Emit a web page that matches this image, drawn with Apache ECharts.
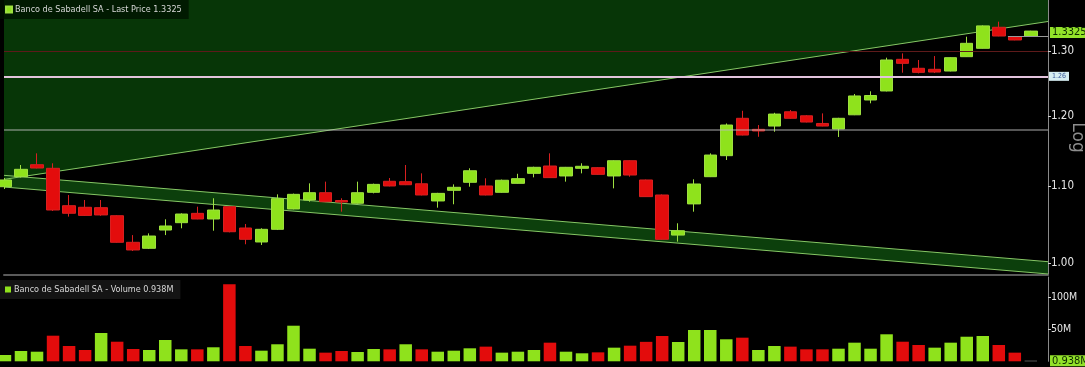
<!DOCTYPE html>
<html><head><meta charset="utf-8">
<script src="https://cdn.jsdelivr.net/npm/echarts@6/dist/echarts.min.js"></script>
<style>html,body{margin:0;padding:0;background:#000;}#c{width:1085px;height:367px;}</style>
</head><body><div id="c"></div>
<script>
// ---- data ----
const security = 'Banco de Sabadell SA';
const opens  = [1.0993,1.1130,1.1296,1.1246,1.0738,1.0717,1.0712,1.0606,1.0263,1.0187,
                1.0420,1.0515,1.0637,1.0563,1.0725,1.0446,1.0267,1.0429,1.0695,1.0814,
                1.0912,1.0807,1.0770,1.0917,1.1067,1.1062,1.1033,1.0801,1.0944,1.1053,
                1.1003,1.0917,1.1039,1.1176,1.1278,1.1140,1.1246,1.1255,1.1140,1.1352,
                1.1085,1.0881,1.0355,1.0762,1.1130,1.1423,1.1963,1.1801,1.1849,1.2060,
                1.2000,1.1887,1.1806,1.2015,1.2237,1.2374,1.2868,1.2726,1.2710,1.2683,
                1.2910,1.3044,1.3388,1.3233,1.3238];
const closes = [1.1085,1.1232,1.1250,1.0681,1.0638,1.0610,1.0616,1.0263,1.0166,1.0343,
                1.0472,1.0628,1.0563,1.0681,1.0398,1.0301,1.0429,1.0832,1.0890,1.0912,
                1.0791,1.0787,1.0912,1.1025,1.1003,1.1020,1.0881,1.0903,1.0985,1.1212,
                1.0881,1.1081,1.1103,1.1260,1.1117,1.1260,1.1274,1.1162,1.1352,1.1153,
                1.0859,1.0301,1.0411,1.1030,1.1432,1.1864,1.1718,1.1777,1.2026,1.1963,
                1.1908,1.1849,1.1963,1.2298,1.2305,1.2857,1.2804,1.2662,1.2667,1.2894,
                1.3125,1.3411,1.3244,1.3179,1.3325];
const lows   = [1.0962,1.1119,1.1245,1.0668,1.0594,1.0603,1.0605,1.0258,1.0153,1.0178,
                1.0355,1.0442,1.0560,1.0411,1.0390,1.0238,1.0229,1.0420,1.0690,1.0791,
                1.0785,1.0659,1.0765,1.0903,1.0998,1.1015,1.0876,1.0712,1.0757,1.0993,
                1.0876,1.0912,1.1035,1.1121,1.1112,1.1062,1.1176,1.1158,1.0971,1.1130,
                1.0855,1.0297,1.0271,1.0659,1.1125,1.1362,1.1713,1.1693,1.1766,1.1958,
                1.1903,1.1845,1.1690,1.2010,1.2187,1.2368,1.2657,1.2646,1.2652,1.2678,
                1.2905,1.3040,1.3240,1.3175,1.3235];
const highs  = [1.1112,1.1292,1.1456,1.1316,1.0881,1.0814,1.0814,1.0612,1.0355,1.0377,
                1.0559,1.0637,1.0725,1.0837,1.0735,1.0498,1.0442,1.0890,1.0900,1.1039,
                1.1062,1.0837,1.1062,1.1035,1.1112,1.1292,1.1176,1.0910,1.1025,1.1246,
                1.1108,1.1090,1.1170,1.1268,1.1456,1.1265,1.1316,1.1262,1.1358,1.1358,
                1.1090,1.0888,1.0507,1.1094,1.1456,1.1887,1.2075,1.1864,1.2045,1.2086,
                1.2010,1.2036,1.1970,1.2328,1.2369,1.2894,1.2963,1.2857,1.2920,1.2900,
                1.3233,1.3420,1.3481,1.3240,1.3330];
// volume in millions
const volumes = [9.8,16.1,15.0,40.0,23.9,17.7,44.2,30.6,19.2,17.7,
                 33.3,18.7,18.7,21.9,120.3,23.9,16.6,26.6,55.6,19.7,
                 13.5,16.1,14.5,19.2,18.7,26.6,18.7,15.0,16.6,20.3,
                 22.9,13.5,15.0,17.7,29.1,15.0,12.5,14.0,21.3,24.4,
                 30.4,39.5,30.2,48.9,48.9,34.4,36.9,17.7,23.9,22.9,
                 18.7,18.7,19.7,29.1,19.7,42.2,30.6,25.5,21.3,29.1,
                 38.4,39.5,25.5,13.5,0.938];
const priceTicks = [1.00, 1.10, 1.20, 1.30];
const volumeTicks = [50, 100];
// drawn annotation lines: [dayIndex, price]
const risingLine   = [[-0.06, 1.1093], [65.07, 1.3484]];
const channelUpper = [[-0.06, 1.1149], [65.07, 1.0020]];
const channelLower = [[-0.06, 1.0989], [65.07, 0.9869]];
const redLevel = 1.3033;
const pinkLevel = 1.2589;
const greyLevel = 1.1766;
const prevLevelStart = 62.57;

// ---- styles ----
const FONT = '"Liberation Sans Narrow","DejaVu Sans Condensed","Liberation Sans",sans-serif';
const UP = '#8fe21c', DOWN = '#e30c0c';
const X_MIN = -0.06, X_MAX = 65.07, Y_MIN = 0.98564, Y_MAX = 1.3847;

const days = opens.map((_, i) => i);
const candleData = days.map(i => [i, opens[i], closes[i], lows[i], highs[i]]);
const lastIdx = days.length - 1;
const volData = days.map(i => {
  let up = i === 0 ? closes[i] >= opens[i] : closes[i] >= closes[i - 1];
  let color = up ? UP : DOWN;
  if (i === lastIdx) color = '#8c8c8c';
  return { value: [i, volumes[i]], itemStyle: { color } };
});
const lastClose = closes[lastIdx];
const lastVol = volumes[lastIdx];
const priceName = security + ' - Last Price ' + lastClose.toFixed(4);
const volName = security + ' - Volume ' + lastVol.toFixed(3) + 'M';

const chart = echarts.init(document.getElementById('c'), null, { renderer: 'canvas' });

function polyItem(pointsFn, fill) {
  return function (params, api) {
    return { type: 'polygon', shape: { points: pointsFn(api) }, style: { fill: fill }, silent: true };
  };
}
const tagLabel = (text) => ({
  show: true, position: 'end', distance: 2, formatter: () => text,
  backgroundColor: '#93e22a', color: '#0d2a00', fontSize: 11, padding: [0, 2], fontFamily: FONT
});

const option = {
  backgroundColor: '#000',
  animation: false,
  textStyle: { fontFamily: FONT },
  legend: [
    { data: [priceName], left: 0, top: 0, padding: [5, 7, 5, 5], itemWidth: 6, itemHeight: 6, itemGap: 2,
      icon: 'rect', backgroundColor: 'rgba(0,18,0,0.75)', selectedMode: false,
      textStyle: { color: '#d8d8d8', fontSize: 9, fontFamily: FONT, padding: [0, 0, 0, -2] } },
    { data: [volName], left: 0, top: 280, padding: [5, 7, 5, 5], itemWidth: 6, itemHeight: 6, itemGap: 2,
      icon: 'rect', backgroundColor: '#141414', selectedMode: false,
      textStyle: { color: '#d8d8d8', fontSize: 9, fontFamily: FONT, padding: [0, 0, 0, -2] } }
  ],
  grid: [
    { left: 4, right: 37, top: 0, height: 275, containLabel: false, outerBoundsMode: 'none' },
    { left: 4, right: 37, top: 277, height: 84.3, containLabel: false, outerBoundsMode: 'none' }
  ],
  xAxis: [
    { type: 'value', gridIndex: 0, min: X_MIN, max: X_MAX,
      axisLine: { show: true, onZero: false, lineStyle: { color: '#5a5a5a', width: 2 } },
      axisTick: { show: false }, axisLabel: { show: false }, splitLine: { show: false } },
    { type: 'value', gridIndex: 1, min: X_MIN, max: X_MAX, show: false, splitLine: { show: false } }
  ],
  yAxis: [
    { type: 'log', logBase: 10, gridIndex: 0, position: 'right', min: Y_MIN, max: Y_MAX,
      axisLine: { show: true, onZero: false, lineStyle: { color: '#8a8a8a' } },
      axisTick: { show: true, length: 3, customValues: priceTicks, lineStyle: { color: '#cfcfcf' } },
      axisLabel: { show: true, customValues: priceTicks, margin: 3, color: '#e6e6e6', fontSize: 11.5, fontFamily: FONT,
                   formatter: v => Number(v).toFixed(2) },
      splitLine: { show: false },
      name: 'Log', nameLocation: 'middle', nameRotate: -90, nameGap: 21, nameMoveOverlap: false,
      nameTextStyle: { color: '#8d8d8d', fontSize: 17, fontFamily: '"DejaVu Sans",sans-serif' } },
    { type: 'value', gridIndex: 1, position: 'right', min: 0, max: 131.7,
      axisLine: { show: true, onZero: false, lineStyle: { color: '#8a8a8a' } },
      axisTick: { show: true, length: 3, customValues: volumeTicks, lineStyle: { color: '#cfcfcf' } },
      axisLabel: { show: true, customValues: volumeTicks, margin: 3, color: '#e6e6e6', fontSize: 10.5, fontFamily: FONT,
                   formatter: v => v + 'M' },
      splitLine: { show: false } }
  ],
  series: [
    { type: 'custom', name: 'upperFill', xAxisIndex: 0, yAxisIndex: 0, z: 1, silent: true,
      data: [[risingLine[0][0], risingLine[0][1]]],
      renderItem: polyItem(api => [
        api.coord([risingLine[0][0], Y_MAX]), api.coord([risingLine[1][0], Y_MAX]),
        api.coord(risingLine[1]), api.coord(risingLine[0])], '#073607') },
    { type: 'custom', name: 'channelFill', xAxisIndex: 0, yAxisIndex: 0, z: 1, silent: true,
      data: [[channelUpper[0][0], channelUpper[0][1]]],
      renderItem: polyItem(api => [
        api.coord(channelUpper[0]), api.coord(channelUpper[1]),
        api.coord(channelLower[1]), api.coord(channelLower[0])], '#0c3f0c') },
    { type: 'line', name: 'rising', data: risingLine, xAxisIndex: 0, yAxisIndex: 0, z: 2, silent: true,
      symbol: 'none', lineStyle: { color: '#86c765', width: 1 } },
    { type: 'line', name: 'chanU', data: channelUpper, xAxisIndex: 0, yAxisIndex: 0, z: 2, silent: true,
      symbol: 'none', lineStyle: { color: '#86c765', width: 1 } },
    { type: 'line', name: 'chanL', data: channelLower, xAxisIndex: 0, yAxisIndex: 0, z: 2, silent: true,
      symbol: 'none', lineStyle: { color: '#86c765', width: 1 } },
    { type: 'candlestick', name: priceName, xAxisIndex: 0, yAxisIndex: 0, z: 4, clip: false,
      data: candleData, barWidth: 13,
      itemStyle: { color: UP, color0: DOWN, borderColor: '#9ee040', borderColor0: '#d82020', borderWidth: 1 },
      markLine: {
        silent: true, symbol: ['none', 'none'], animation: false,
        data: [
          { yAxis: redLevel, lineStyle: { color: '#5e1a1a', width: 1, type: 'solid' }, label: { show: false } },
          { yAxis: greyLevel, lineStyle: { color: 'rgba(185,185,185,0.62)', width: 1.5, type: 'solid' }, label: { show: false } },
          { yAxis: pinkLevel, lineStyle: { color: '#e2c3dc', width: 2, type: 'solid' },
            label: { show: true, position: 'end', distance: 1, formatter: () => pinkLevel.toFixed(2),
                     backgroundColor: '#d6eef2', color: '#3a5a9a', fontSize: 7, padding: [1, 3], fontFamily: FONT } },
          [ { coord: [prevLevelStart, closes[lastIdx - 2]] }, { coord: [X_MAX, closes[lastIdx - 2]] ,
              lineStyle: { color: '#9a9a9a', width: 1, type: 'solid' }, label: { show: false } } ],
          { yAxis: lastClose, lineStyle: { color: 'rgba(0,0,0,0)', width: 0 }, label: tagLabel(lastClose.toFixed(4)) }
        ]
      } },
    { type: 'bar', name: volName, xAxisIndex: 1, yAxisIndex: 1, barWidth: 12.5, data: volData,
      itemStyle: { color: UP },
      markLine: {
        silent: true, symbol: ['none', 'none'], animation: false,
        data: [ { yAxis: lastVol, lineStyle: { color: 'rgba(0,0,0,0)', width: 0 }, label: tagLabel(lastVol.toFixed(3) + 'M') } ]
      } }
  ]
};
chart.setOption(option);
</script>
</body></html>
